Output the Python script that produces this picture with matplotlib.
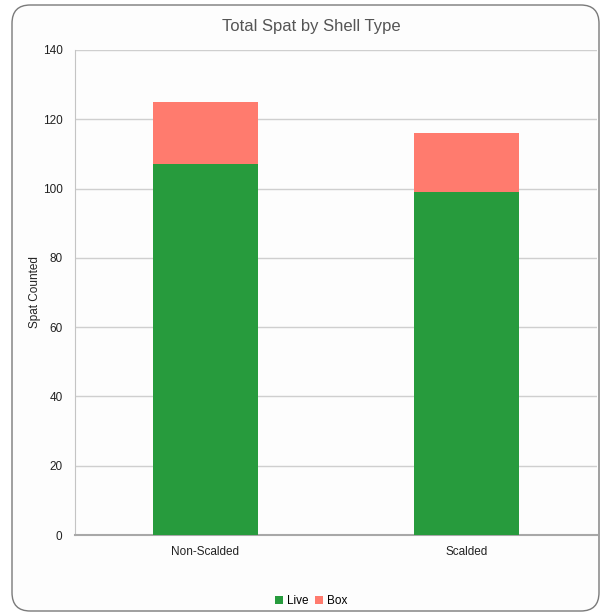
import matplotlib.pyplot as plt
from matplotlib.patches import FancyBboxPatch
import numpy as np

plt.rcParams['font.family'] = ['Liberation Sans', 'DejaVu Sans']

# Spat counts per shell type
shell_types = ['Non-Scalded', 'Scalded']
live = [107, 99]
box = [18, 17]
y_ticks = [0, 20, 40, 60, 80, 100, 120, 140]

green = '#279b3d'
salmon = '#ff7b6e'

fig = plt.figure(figsize=(6.06, 6.16), dpi=100)
fig.patch.set_facecolor('white')

# rounded frame around the chart, kept behind the axes
frame = FancyBboxPatch((12 / 606, 5 / 616), 587 / 606, 606 / 616,
                       boxstyle='round,pad=0,rounding_size=0.03',
                       transform=fig.transFigure, facecolor='#fdfdfd',
                       edgecolor='#7a7a7a', linewidth=1.0, zorder=-5)
fig.patches.append(frame)

ax = fig.add_axes([75 / 606, 81 / 616, 522 / 606, 485 / 616])
ax.set_facecolor('none')

x = np.arange(len(shell_types))
ax.bar(x, live, width=0.4, color=green, label='Live', zorder=3)
ax.bar(x, box, width=0.4, bottom=live, color=salmon, label='Box', zorder=3)

ax.set_xlim(-0.5, 1.5)
ax.set_ylim(0, 140)
ax.set_yticks(y_ticks)
ax.set_xticks(x)
ax.set_xticklabels(shell_types)
ax.tick_params(axis='both', length=0, labelsize=8.5, colors='#222222')
ax.tick_params(axis='y', pad=9)
ax.tick_params(axis='x', pad=8)

ax.grid(axis='y', color='#cfcfcf', linewidth=1.0, zorder=0)
for side in ['top', 'right']:
    ax.spines[side].set_visible(False)
ax.spines['left'].set_color('#c4c4c4')
ax.spines['bottom'].set_color('#a8a8a8')
ax.spines['bottom'].set_linewidth(1.5)

ax.set_ylabel('Spat Counted', fontsize=8.5, color='#222222')
ax.yaxis.set_label_coords(-34 / 522, 0.5)

fig.text(311 / 606, 1 - 26 / 616, 'Total Spat by Shell Type', ha='center', va='center',
         fontsize=12, color='#555555')

fig.legend(loc='center', bbox_to_anchor=(311 / 606, 1 - 601 / 616), ncol=2,
           frameon=False, fontsize=8.5, handlelength=0.7, handleheight=0.7,
           handletextpad=0.3, columnspacing=0.6)

fig.savefig('out.png', dpi=100, facecolor='white')
